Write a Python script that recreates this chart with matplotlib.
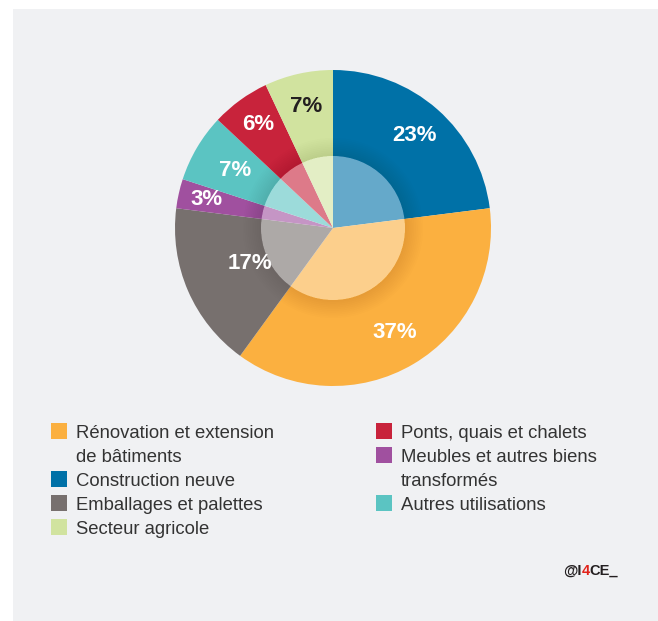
import numpy as np
import matplotlib.pyplot as plt
from matplotlib.patches import Rectangle, Wedge, Circle

plt.rcParams['font.family'] = ['Liberation Sans', 'DejaVu Sans']

# parts du bois, dans le sens horaire depuis midi
categories = ["Construction neuve", "Rénovation et extension\nde bâtiments",
              "Emballages et palettes", "Meubles et autres biens\ntransformés",
              "Autres utilisations", "Ponts, quais et chalets", "Secteur agricole"]
parts = [23, 37, 17, 3, 7, 6, 7]
couleurs = ["#0071a7", "#fbb040", "#77706e", "#a0509f", "#5bc4c2", "#c8233b", "#d1e39f"]
couleurs_txt = ["white", "white", "white", "white", "white", "white", "#231f20"]

# ordre de la légende (colonne gauche puis droite)
legende_g = ["Rénovation et extension\nde bâtiments", "Construction neuve",
             "Emballages et palettes", "Secteur agricole"]
legende_d = ["Ponts, quais et chalets", "Meubles et autres biens\ntransformés",
             "Autres utilisations"]

W, H = 658, 621
fig = plt.figure(figsize=(W/100, H/100), dpi=100)
fig.patch.set_facecolor("white")
fig.add_artist(Rectangle((13/W, 0), 1, 1-9/H, transform=fig.transFigure,
                         facecolor="#f0f1f3", edgecolor="none", zorder=-5))

# camembert (unités en pixels, centre 333,228)
R = 158
cx, cy = 333, 228
ax = fig.add_axes([(cx-170)/W, 1-(cy+170)/H, 340/W, 340/H])

wedges, _ = ax.pie(parts, colors=couleurs, startangle=90, counterclock=False,
                   radius=R, wedgeprops=dict(linewidth=0))
ax.set_xlim(-170, 170)
ax.set_ylim(-170, 170)
ax.set_aspect("equal")
ax.axis("off")

# ombre douce autour du disque central
r_in = 72
for i in range(10):
    ax.add_patch(Wedge((0, 0), r_in + 2 + i*1.8, 0, 360, width=2 + i*1.8,
                       facecolor="black", alpha=0.009, linewidth=0))
ax.add_patch(Circle((0, 0), r_in, facecolor="white", alpha=0.4, linewidth=0))

# étiquettes de pourcentage
label_r = [0.78, 0.77, 0.57, 0.82, 0.72, 0.81, 0.79]
for w, p, c, lr in zip(wedges, parts, couleurs_txt, label_r):
    a = np.deg2rad((w.theta1 + w.theta2) / 2)
    ax.text(lr*R*np.cos(a), lr*R*np.sin(a), f"{p}%", ha="center", va="center",
            color=c, fontsize=16, fontweight="bold")

# légende
pas = 24


def entree(x, ligne, nom):
    y = 431 + ligne*pas
    coul = couleurs[categories.index(nom)]
    fig.add_artist(Rectangle((x/W, 1-(y+8)/H), 16/W, 16/H, transform=fig.transFigure,
                             facecolor=coul, edgecolor="none"))
    for k, txt in enumerate(nom.split("\n")):
        fig.text((x+25)/W, 1-(y + 1 + k*pas)/H, txt, ha="left", va="center_baseline",
                 fontsize=13.3, color="#333333")
    return ligne + nom.count("\n") + 1


ligne = 0
for nom in legende_g:
    ligne = entree(51, ligne, nom)
ligne = 0
for nom in legende_d:
    ligne = entree(376, ligne, nom)

# signature
fig.canvas.draw()
r = fig.canvas.get_renderer()
x = 563/W
for morceau, c in [("@I", "#231f20"), ("4", "#e2231a"), ("CE_", "#231f20")]:
    t = fig.text(x, 1-571/H, morceau, ha="left", va="center", fontsize=10.5,
                 color=c, fontweight="bold")
    x += t.get_window_extent(r).width / W

fig.savefig("out.png", dpi=100, facecolor=fig.get_facecolor())
